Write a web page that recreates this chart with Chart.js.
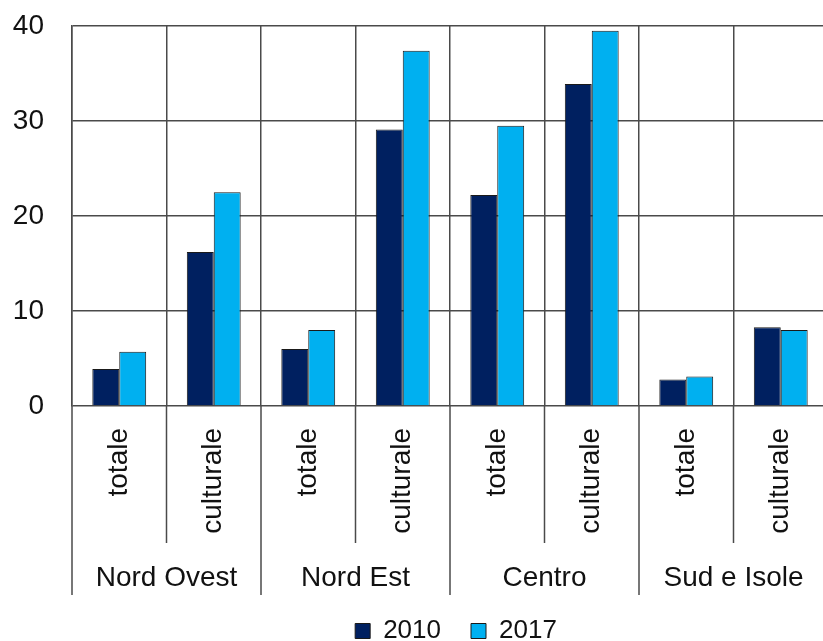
<!DOCTYPE html>
<html>
<head>
<meta charset="utf-8">
<script src="https://cdn.jsdelivr.net/npm/chart.js@4.4.0/dist/chart.umd.min.js"></script>
<style>
  html, body { margin: 0; padding: 0; overflow: hidden; background: #fff; }
</style>
</head>
<body>
<canvas id="regionChart" width="912" height="654"></canvas>
<script>
// Categories and values
const labels = ["totale", "culturale", "totale", "culturale", "totale", "culturale", "totale", "culturale"];
const groups = ["Nord Ovest", "Nord Est", "Centro", "Sud e Isole"];
const values2010 = [3.9, 16.2, 6.0, 29.1, 22.2, 33.9, 2.8, 8.3];
const values2017 = [5.7, 22.5, 8.0, 37.4, 29.5, 39.5, 3.1, 8.0];
const yTicks = [0, 10, 20, 30, 40];

const gridColor = '#4a4a4a';
const textColor = '#111';
const fontFamily = "'Liberation Sans', Arial, sans-serif";

// separators below the axis + group names
const groupLines = {
  id: 'groupLines',
  afterDraw(chart) {
    const { ctx, scales: { x, y } } = chart;
    const step = x.getPixelForValue(1) - x.getPixelForValue(0);
    const base = y.bottom;
    ctx.save();
    ctx.strokeStyle = gridColor;
    ctx.lineWidth = 1.5;
    for (let i = 0; i <= labels.length; i++) {
      const px = x.getPixelForValue(i) - step / 2;
      const len = i % 2 === 0 ? 189 : 137;
      ctx.beginPath();
      ctx.moveTo(px, base);
      ctx.lineTo(px, base + len);
      ctx.stroke();
    }
    ctx.fillStyle = textColor;
    ctx.font = "28px " + fontFamily;
    ctx.textAlign = 'center';
    ctx.textBaseline = 'middle';
    groups.forEach((g, k) => {
      const cx = (x.getPixelForValue(2 * k) + x.getPixelForValue(2 * k + 1)) / 2;
      ctx.fillText(g, cx, base + 172);
    });
    ctx.restore();
  }
};

const data = {
  labels: labels,
  datasets: [{
    label: '2010',
    data: values2010,
    backgroundColor: '#002060',
    borderColor: '#1a1a1a',
    borderWidth: 1,
    barPercentage: 1,
    categoryPercentage: 0.57
  }, {
    label: '2017',
    data: values2017,
    backgroundColor: '#00b0f0',
    borderColor: '#1a1a1a',
    borderWidth: 1,
    barPercentage: 1,
    categoryPercentage: 0.57
  }]
};

const config = {
  type: 'bar',
  data: data,
  plugins: [groupLines],
  options: {
    responsive: false,
    animation: false,
    layout: { padding: { top: 26, left: 0, right: 0, bottom: 0 } },
    plugins: {
      legend: {
        position: 'bottom',
        labels: {
          color: textColor,
          boxWidth: 15,
          boxHeight: 15,
          padding: 30,
          font: { size: 26, family: fontFamily }
        }
      },
      title: { display: false },
      tooltip: { enabled: false }
    },
    scales: {
      x: {
        afterFit: function (scale) { scale.height = 182; },
        grid: {
          display: true,
          offset: true,
          drawTicks: false,
          color: gridColor,
          lineWidth: 1.5
        },
        border: { display: false },
        ticks: {
          color: textColor,
          minRotation: 90,
          maxRotation: 90,
          padding: 22,
          autoSkip: false,
          font: { size: 28, family: fontFamily }
        }
      },
      y: {
        min: 0,
        max: 40,
        afterFit: function (scale) { scale.width = 72; },
        afterBuildTicks: function (scale) { scale.ticks = yTicks.map(v => ({ value: v })); },
        grid: {
          color: gridColor,
          lineWidth: 1.5,
          drawTicks: true,
          tickLength: 28,
          tickColor: 'rgba(0,0,0,0)'
        },
        border: { display: true, color: gridColor, width: 1.5 },
        ticks: {
          color: textColor,
          padding: 0,
          font: { size: 28, family: fontFamily }
        }
      },
      yRight: {
        position: 'right',
        display: true,
        afterFit: function (scale) { scale.width = 84; },
        grid: { display: false },
        border: { display: false },
        ticks: { display: false }
      }
    }
  }
};

const myChart = new Chart(document.getElementById('regionChart'), config);
</script>
</body>
</html>
